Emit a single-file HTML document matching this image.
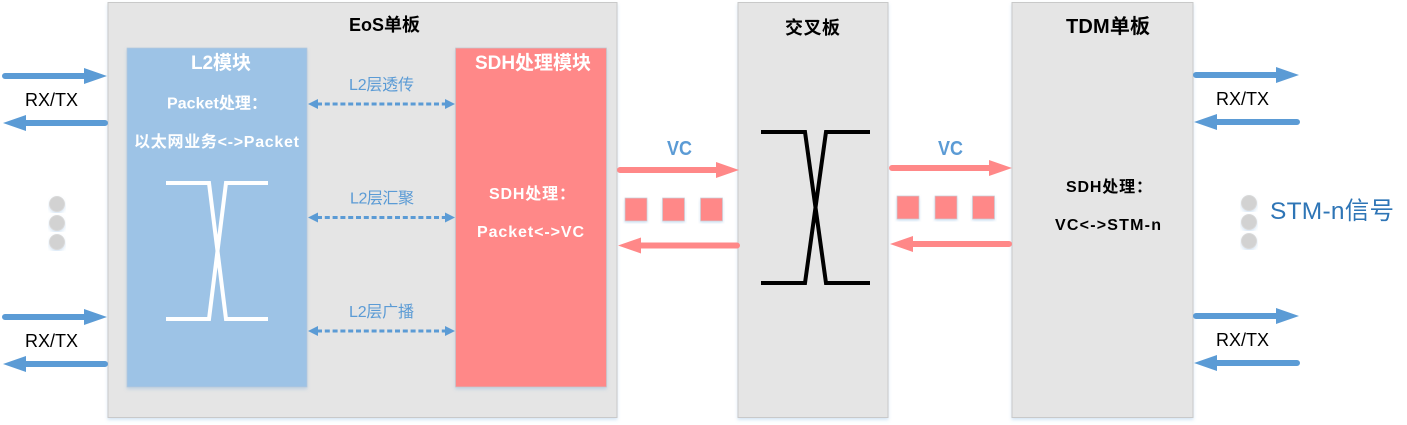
<!DOCTYPE html>
<html><head><meta charset="utf-8">
<style>
html,body{margin:0;padding:0;background:#fff;width:1407px;height:425px;overflow:hidden}
svg{display:block}
text{font-family:"Liberation Sans","Noto Sans CJK SC",sans-serif}
.b{font-weight:bold}
</style></head><body>
<svg width="1407" height="425" viewBox="0 0 1407 425" xmlns="http://www.w3.org/2000/svg">
<defs>
<filter id="s" x="-10%" y="-10%" width="120%" height="120%"><feDropShadow dx="0" dy="2" stdDeviation="1.5" flood-color="#5b9bd5" flood-opacity=".25"/></filter>
<g id="sq"><rect width="22" height="23" fill="#ff8888" stroke="#c9cfd6" stroke-width=".7" filter="url(#s)"/></g>
<circle id="dot" r="7.5" fill="#d2d2d2" stroke="#d9d9d9" filter="url(#s)"/>
</defs>

<g stroke="#c9c9c9" stroke-width="1" fill="#e5e5e5" filter="url(#s)">
<rect x="108" y="2.500" width="509" height="415"/>
<rect x="738" y="2.500" width="150" height="415"/>
<rect x="1012" y="2.500" width="181" height="415"/>
</g>
<rect x="127" y="48" width="180" height="339" fill="#9dc3e6" stroke="#b5c8da" stroke-width=".7" filter="url(#s)"/>
<rect x="455.500" y="48" width="151" height="339" fill="#ff8888" stroke="#c3c6cc" stroke-width=".7" filter="url(#s)"/>

<!-- switch crosses -->
<g fill="none" stroke="#fff" stroke-width="4">
<path d="M166 183H209L226 319H268"/><path d="M268 183H226L209 319H166"/>
</g>
<g fill="none" stroke="#000" stroke-width="4">
<path d="M761 132H805L826 283H870"/><path d="M870 132H826L805 283H761"/>
</g>

<!-- blue arrows -->
<g fill="#5b9bd5" stroke="none">
<path d="M5 73H84V68L107 76L84 84V79H5A3 3 0 0 1 5 73Z"/>
<path d="M105 120H26V115L3 123L26 131V126H105A3 3 0 0 0 105 120Z"/>
<path d="M5 314H84V309L107 317L84 325V320H5A3 3 0 0 1 5 314Z"/>
<path d="M105 361H26V356L3 364L26 372V367H105A3 3 0 0 0 105 361Z"/>
<path d="M1196 72H1276V67L1299 75L1276 83V78H1196A3 3 0 0 1 1196 72Z"/>
<path d="M1297 119H1217V114L1194 122L1217 130V125H1297A3 3 0 0 0 1297 119Z"/>
<path d="M1196 313H1276V308L1299 316L1276 324V319H1196A3 3 0 0 1 1196 313Z"/>
<path d="M1297 360H1217V355L1194 363L1217 371V366H1297A3 3 0 0 0 1297 360Z"/>
</g>

<!-- pink arrows -->
<g fill="#ff8888" stroke="none">
<path d="M620 167H716V162L739 170L716 178V173H620A3 3 0 0 1 620 167Z"/>
<path d="M737 242.500H641V237.500L618 245.500L641 253.500V248.500H737A3 3 0 0 0 737 242.500Z"/>
<path d="M892 165H989V160L1012 168L989 176V171H892A3 3 0 0 1 892 165Z"/>
<path d="M1009 241H913V236L890 244L913 252V247H1009A3 3 0 0 0 1009 241Z"/>
</g>

<!-- dashed double arrows -->
<g stroke="#5b9bd5" stroke-width="3" stroke-dasharray="5 2.800" fill="none">
<path d="M317 104H446"/><path d="M317 217.500H446"/><path d="M317 331H446"/>
</g>
<g fill="#5b9bd5">
<path d="M308 104L318 99V109Z"/><path d="M455 104L445 99V109Z"/>
<path d="M308 217.500L318 212.500V222.500Z"/><path d="M455 217.500L445 212.500V222.500Z"/>
<path d="M308 331L318 326V336Z"/><path d="M455 331L445 326V336Z"/>
</g>

<!-- squares -->
<use href="#sq" x="625" y="198"/><use href="#sq" x="662.500" y="198"/><use href="#sq" x="700.500" y="198"/>
<use href="#sq" x="897" y="196"/><use href="#sq" x="935" y="196"/><use href="#sq" x="972.500" y="196"/>

<!-- dots -->
<use href="#dot" x="57" y="204"/><use href="#dot" x="57" y="223"/><use href="#dot" x="57" y="242"/>
<use href="#dot" x="1249" y="203"/><use href="#dot" x="1249" y="222"/><use href="#dot" x="1249" y="241"/>

<!-- labels -->
<g fill="#000">
<text class="b" font-size="18" x="349" y="31" textLength="71" lengthAdjust="spacing">EoS单板</text>
<text class="b" font-size="18" x="785" y="34" textLength="55" lengthAdjust="spacing">交叉板</text>
<text class="b" font-size="20" x="1066" y="33" textLength="84" lengthAdjust="spacing">TDM单板</text>
</g>
<g fill="#fff">
<text class="b" font-size="19" x="191" y="69" textLength="60" lengthAdjust="spacing">L2模块</text>
<text class="b" font-size="16" x="167" y="108.500" textLength="100" lengthAdjust="spacing">Packet处理：</text>
<text class="b" font-size="16" x="134" y="147" textLength="165" lengthAdjust="spacing">以太网业务&lt;-&gt;Packet</text>
<text class="b" font-size="19" x="475" y="69" textLength="116" lengthAdjust="spacing">SDH处理模块</text>
<text class="b" font-size="16" x="489" y="199" textLength="86" lengthAdjust="spacing">SDH处理：</text>
<text class="b" font-size="16" x="477" y="237" textLength="107" lengthAdjust="spacing">Packet&lt;-&gt;VC</text>
</g>
<g fill="#000">
<text class="b" font-size="16" x="1066" y="192" textLength="86" lengthAdjust="spacing">SDH处理：</text>
<text class="b" font-size="16" x="1055" y="230" textLength="106" lengthAdjust="spacing">VC&lt;-&gt;STM-n</text>
<g font-size="18">
<text x="25" y="106">RX/TX</text>
<text x="25" y="347">RX/TX</text>
<text x="1216" y="105">RX/TX</text>
<text x="1216" y="346">RX/TX</text>
</g>
</g>
<g fill="#5b9bd5" font-size="16">
<text x="349" y="90" textLength="65" lengthAdjust="spacing">L2层透传</text>
<text x="350" y="203.500" textLength="64" lengthAdjust="spacing">L2层汇聚</text>
<text x="349" y="317" textLength="65" lengthAdjust="spacing">L2层广播</text>
</g>
<g fill="#5b9bd5" font-size="20">
<text class="b" x="667" y="155" textLength="25" lengthAdjust="spacingAndGlyphs">VC</text>
<text class="b" x="938" y="155" textLength="25" lengthAdjust="spacingAndGlyphs">VC</text>
</g>
<text x="1270" y="219" font-size="24.500" fill="#2e75b6" textLength="124" lengthAdjust="spacing">STM-n信号</text>
</svg>
</body></html>
